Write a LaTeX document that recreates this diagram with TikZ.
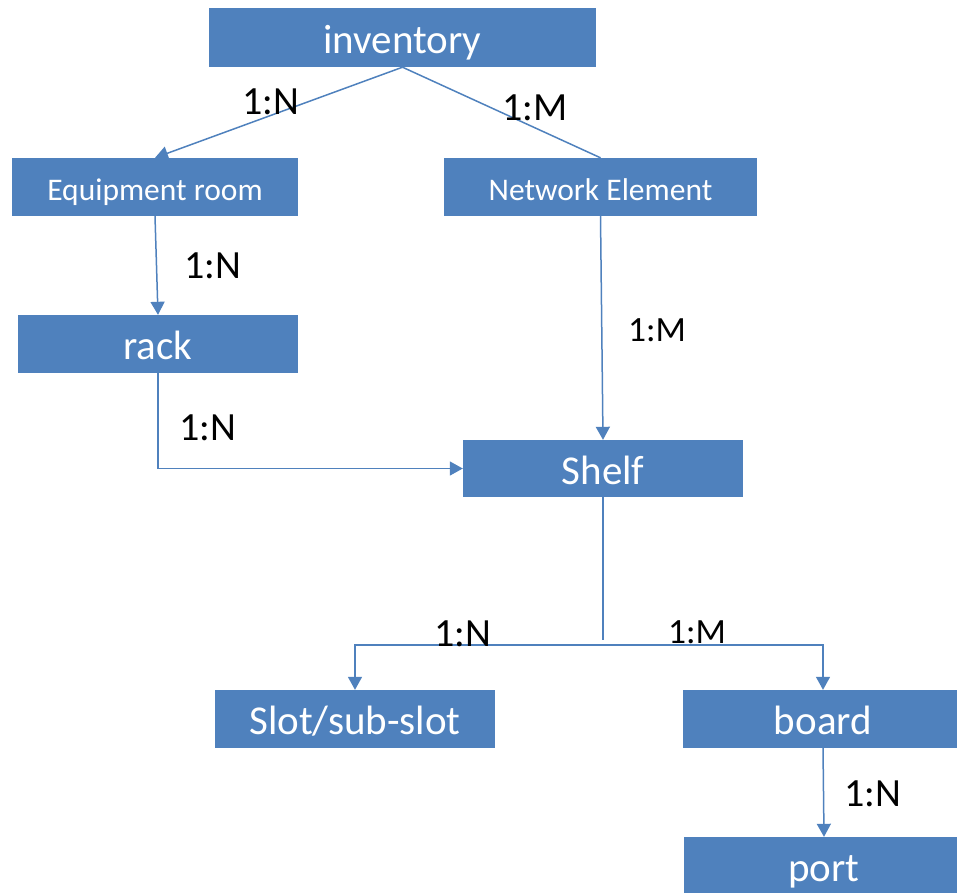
\documentclass[tikz,border=0pt]{standalone}
\usepackage{fontspec}
\setmainfont{Carlito}
\usetikzlibrary{arrows.meta}
\definecolor{boxblue}{RGB}{79,129,189}
\begin{document}
\begin{tikzpicture}[
  x=1pt, y=-1pt,
  box/.style={fill=boxblue, text=white, inner sep=0pt, minimum width=280pt, minimum height=58pt, text height=31.5pt, text depth=0pt, font=\fontsize{41}{49}\selectfont},
  subbox/.style={box, text height=26pt, font=\fontsize{31.5}{38}\selectfont},
  card/.style={inner sep=0pt, font=\fontsize{40}{48}\selectfont},
  smallcard/.style={card, font=\fontsize{35.5}{42}\selectfont},
  link/.style={draw=boxblue, line width=1.5pt},
  arrow/.style={link, -{Triangle[length=13pt,width=14pt]}}
]
  \useasboundingbox (0,0) rectangle (957,892);
  % entity boxes
  \node[box, minimum width=387pt, minimum height=59pt] (inventory) at (402.5,37.5) {inventory};
  \node[subbox, minimum width=286pt] (eroom) at (155,187) {Equipment room};
  \node[subbox, minimum width=313pt] (ne) at (600.5,187) {Network Element};
  \node[box] (rack) at (158,344) {rack};
  \node[box, minimum height=57pt] (shelf) at (603,468.5) {Shelf};
  \node[box] (slot) at (355,719) {Slot/sub-slot};
  \node[box] (board) at (823,719) {board};
  \node[box] (port) at (824,866) {port};
  % connectors
  \draw[arrow] (inventory.south) -- (eroom.north);
  \draw[link] (inventory.south) -- (ne.north);
  \draw[arrow] (eroom.south) -- (rack.north);
  \draw[arrow] (ne.south) -- (shelf.north);
  \draw[arrow] (rack.south) |- (shelf.west);
  \coordinate (split) at (603,640);
  \coordinate (bus) at (603,645);
  \draw[link] (shelf.south) -- (split);
  \draw[arrow] (bus) -| (slot.north);
  \draw[arrow] (bus) -| (board.north);
  \draw[arrow] (board.south) -- (port.north);
  % cardinalities
  \node[card] (c1) at (271,102) {1:N};
  \node[card] (c2) at (535,108) {1:M};
  \node[card] (c3) at (213,266) {1:N};
  \node[smallcard] (c4) at (657,330) {1:M};
  \node[card] (c5) at (208,428) {1:N};
  \node[card] (c6) at (463,634) {1:N};
  \node[smallcard] (c7) at (697,632) {1:M};
  \node[card] (c8) at (873,794) {1:N};
\end{tikzpicture}
\end{document}
